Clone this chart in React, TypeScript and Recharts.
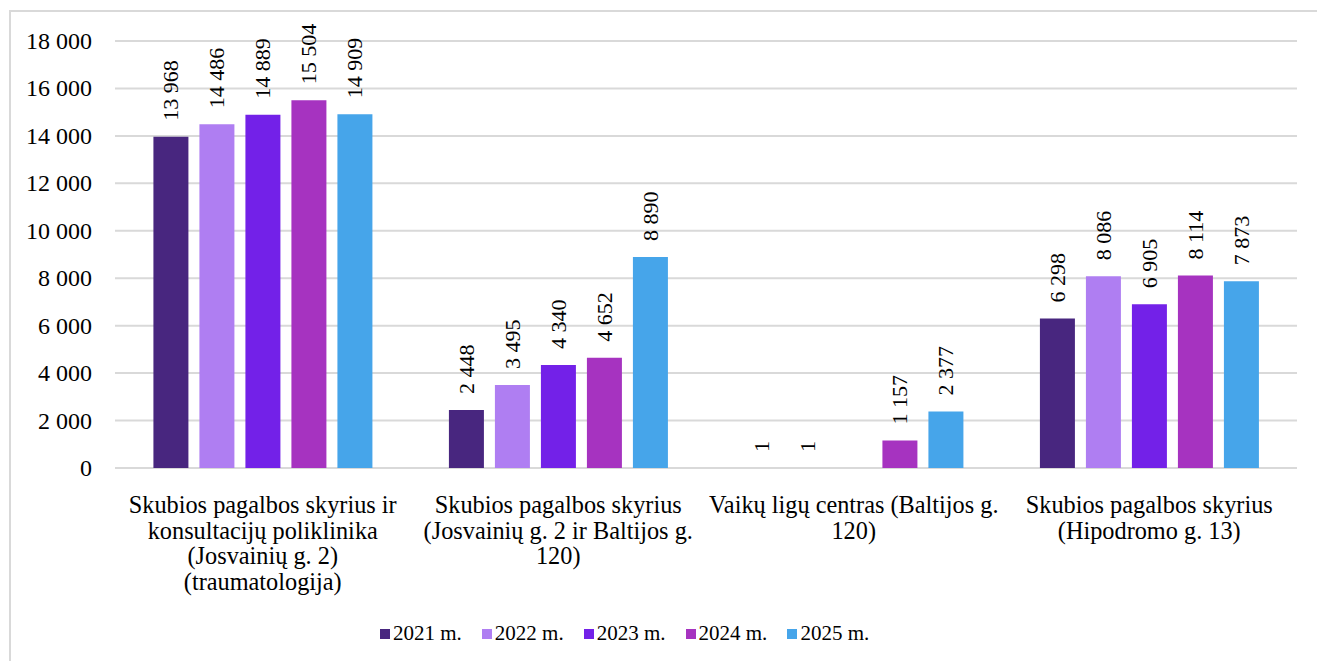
import { Bar, BarChart, CartesianGrid, LabelList, Legend, XAxis, YAxis } from "recharts"

const categories = ["traumatologija", "josvainiu-baltijos", "vaiku", "hipodromo"]

const categoryLines = [
  ["Skubios pagalbos skyrius ir", "konsultacijų poliklinika", "(Josvainių g. 2)", "(traumatologija)"],
  ["Skubios pagalbos skyrius", "(Josvainių g. 2 ir Baltijos g.", "120)"],
  ["Vaikų ligų centras (Baltijos g.", "120)"],
  ["Skubios pagalbos skyrius", "(Hipodromo g. 13)"],
]

const seriesNames = ["2021 m.", "2022 m.", "2023 m.", "2024 m.", "2025 m."]
const seriesColors = ["#48267f", "#af7ef2", "#7321e8", "#a633c0", "#46a5ea"]

const values2021 = [13968, 2448, 1, 6298]
const values2022 = [14486, 3495, 1, 8086]
const values2023 = [14889, 4340, null, 6905]
const values2024 = [15504, 4652, 1157, 8114]
const values2025 = [14909, 8890, 2377, 7873]

const yTicks = [0, 2000, 4000, 6000, 8000, 10000, 12000, 14000, 16000, 18000]

const allValues = [values2021, values2022, values2023, values2024, values2025]

const data = categories.map((name, i) => {
  const row: Record<string, string | number | null> = { name }
  seriesNames.forEach((s, j) => {
    row[s] = allValues[j][i]
  })
  return row
})

const FONT = "Liberation Serif"

const fmt = (v: number) => String(v).replace(/\B(?=(\d{3})+(?!\d))/g, " ")

const CategoryTick = (props: any) => {
  const { x, y, payload } = props
  const idx = categories.indexOf(payload.value)
  const lines = categoryLines[idx] || []
  return (
    <text x={x} y={y} textAnchor="middle" style={{ fontSize: 24.3, fontFamily: FONT }} fill="#000">
      {lines.map((l, i) => (
        <tspan key={i} x={x} dy={i === 0 ? 37 : 25.5}>
          {l}
        </tspan>
      ))}
    </text>
  )
}

const YTick = (props: any) => {
  const { x, y, payload } = props
  return (
    <text x={x} y={y} textAnchor="end" dominantBaseline="central" style={{ fontSize: 24, fontFamily: FONT }} fill="#000">
      {fmt(payload.value)}
    </text>
  )
}

const renderLabel = (props: any) => {
  const { x, y, width, value } = props
  if (value == null) return null
  const cx = x + width / 2
  const ty = y - 16
  return (
    <text
      x={cx}
      y={ty}
      transform={`rotate(-90, ${cx}, ${ty})`}
      textAnchor="start"
      dominantBaseline="central"
      style={{ fontSize: 22, fontFamily: FONT }}
      fill="#000"
    >
      {fmt(value)}
    </text>
  )
}

const LegendContent = () => (
  <div style={{ display: "flex", paddingLeft: 380, paddingTop: 3, fontFamily: FONT, fontSize: 21 }}>
    {seriesNames.map((s, i) => (
      <div key={s} style={{ display: "flex", alignItems: "center", marginRight: 20 }}>
        <span style={{ width: 10, height: 10, background: seriesColors[i], marginRight: 3, display: "inline-block" }} />
        <span style={{ color: "#000" }}>{s}</span>
      </div>
    ))}
  </div>
)

export default function App() {
  return (
    <div style={{ position: "absolute", left: 0, top: 0, width: 1317, height: 661, overflow: "hidden", background: "#fff" }}>
      <div
        style={{
          position: "absolute",
          left: 9,
          top: 10,
          width: 1330,
          height: 670,
          borderTop: "2px solid #d9d9d9",
          borderLeft: "2px solid #d9d9d9",
        }}
      />
      <div style={{ position: "absolute", left: 0, top: 0 }}>
        <BarChart
          width={1317}
          height={661}
          data={data}
          margin={{ top: 41, right: 20, left: 0, bottom: 0 }}
          barCategoryGap="13%"
          barGap={11}
        >
          <CartesianGrid vertical={false} stroke="#d9d9d9" strokeWidth={2} />
          <XAxis
            dataKey="name"
            axisLine={false}
            tickLine={false}
            interval={0}
            height={150}
            tick={<CategoryTick />}
          />
          <YAxis
            width={115}
            domain={[0, 18000]}
            ticks={yTicks}
            axisLine={false}
            tickLine={false}
            tickMargin={17}
            tick={<YTick />}
          />
          <Legend verticalAlign="bottom" height={43} content={<LegendContent />} />
          {seriesNames.map((s, i) => (
            <Bar key={s} dataKey={s} fill={seriesColors[i]} isAnimationActive={false}>
              <LabelList dataKey={s} content={renderLabel} />
            </Bar>
          ))}
        </BarChart>
      </div>
    </div>
  )
}
